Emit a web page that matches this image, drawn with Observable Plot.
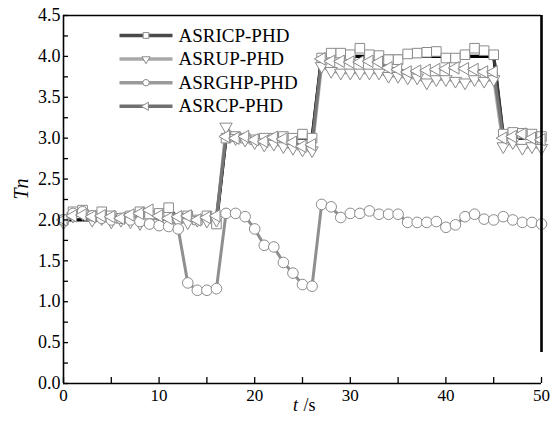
<!DOCTYPE html>
<html><head><meta charset="utf-8">
<script src="https://cdn.jsdelivr.net/npm/d3@7"></script>
<script src="https://cdn.jsdelivr.net/npm/@observablehq/plot@0.6"></script>
<style>
body{margin:0;background:#fff}
svg{display:block}
svg, svg text {font-family: "Liberation Serif", "Times New Roman", serif !important;}
</style>
</head><body><div id="chart"></div>
<script>
const time = [0,1,2,3,4,5,6,7,8,9,10,11,12,13,14,15,16,17,18,19,20,21,22,23,24,25,26,27,28,29,30,31,32,33,34,35,36,37,38,39,40,41,42,43,44,45,46,47,48,49,50];
const trueCount = [2,2,2,2,2,2,2,2,2,2,2,2,2,2,2,2,2, 3,3,3,3,3,3,3,3,3,3, 4,4,4,4,4,4,4,4,4,4,4,4,4,4,4,4,4,4,4, 3,3,3,3,3];
const asricp = [2.0,2.1,2.12,2.05,2.1,2.05,2.02,2.05,2.1,2.05,2.08,2.15,2.02,2.05,2.0,2.05,1.95,
  3.0,3.02,3.0,2.98,3.0,3.0,3.02,3.0,3.05,3.0,
  3.98,4.04,4.04,4.02,4.1,4.02,4.01,3.96,3.96,4.03,4.04,4.05,4.06,3.98,3.98,4.02,4.1,4.07,4.02,
  3.05,3.07,3.06,3.05,3.02];
const asrup = [1.97,2.05,2.08,2.0,2.02,1.98,2.0,1.98,1.96,1.97,1.96,1.95,1.98,1.97,2.0,1.99,2.0,
  3.14,3.0,2.98,2.95,2.92,2.93,2.9,2.88,2.86,2.85,
  3.88,3.82,3.8,3.8,3.8,3.8,3.8,3.76,3.76,3.74,3.74,3.68,3.72,3.72,3.7,3.68,3.72,3.7,3.72,
  2.9,2.95,2.88,2.9,2.88];
const asrghp = [2.0,2.08,2.1,2.05,2.02,2.0,2.02,2.0,1.98,1.95,1.93,1.92,1.89,1.23,1.14,1.14,1.16,
  2.08,2.08,2.04,1.89,1.69,1.67,1.48,1.35,1.21,1.19,
  2.19,2.16,2.03,2.08,2.08,2.11,2.07,2.07,2.07,1.97,1.97,1.97,1.98,1.91,1.94,2.04,2.07,2.01,2.0,2.04,2.0,1.97,1.97,1.95];
const asrcp = [2.0,2.05,2.06,2.04,2.05,2.04,2.02,2.06,2.08,2.12,2.05,2.02,2.04,2.05,2.0,2.03,2.05,
  3.02,3.0,3.02,2.98,2.96,3.01,2.99,2.95,2.9,2.92,
  3.97,3.94,3.94,3.93,3.93,3.94,3.93,3.86,3.84,3.81,3.82,3.83,3.84,3.85,3.86,3.85,3.84,3.81,3.81,
  3.0,3.02,3.05,3.0,2.98];
const seriesNames = ["ASRICP-PHD","ASRUP-PHD","ASRGHP-PHD","ASRCP-PHD"];
const xTicks = [0,10,20,30,40,50];
const xMinor = [0,5,10,15,20,25,30,35,40,45,50];
const yTicks = [0,0.5,1,1.5,2,2.5,3,3.5,4,4.5];
const yMinor = [0,0.25,0.5,0.75,1,1.25,1.5,1.75,2,2.25,2.5,2.75,3,3.25,3.5,3.75,4,4.25,4.5];

const W = 550, H = 426, ML = 63, MR = 9, MT = 15, MB = 43;
const FONT = "Liberation Serif, Times New Roman, serif";
const rows = arr => time.map((t, i) => ({t, v: arr[i]}));
const px2x = px => (px - ML) / (W - ML - MR) * 50;
const px2y = py => (H - MB - py) / (H - MB - MT) * 4.5;

const styles = [
  {data: asricp, line: "#3a3a3a", legendLine: "#4a4a4a", symbol: "square", rotate: 0, r: 5.4},
  {data: asrup, line: "#a8a8a8", legendLine: "#a8a8a8", symbol: "triangle", rotate: 180, r: 4.6},
  {data: asrghp, line: "#8f8f8f", legendLine: "#9a9a9a", symbol: "circle", rotate: 0, r: 5.3},
  {data: asrcp, line: "#757575", legendLine: "#707070", symbol: "triangle", rotate: -90, r: 4.6}
];
const mstroke = "#8a8a8a";

const legendRows = seriesNames.map((name, i) => ({
  name, i,
  x1: px2x(119), x2: px2x(172), xm: px2x(145.5), xt: px2x(178),
  y: px2y(35 + i * 23.6)
}));

const marks = [];
marks.push(Plot.line(rows(trueCount), {x: "t", y: "v", stroke: "#000", strokeWidth: 3.2}));
for (const s of styles) {
  marks.push(Plot.line(rows(s.data), {x: "t", y: "v", stroke: s.line, strokeWidth: 3}));
}
for (const s of styles) {
  marks.push(Plot.dot(rows(s.data), {x: "t", y: "v", symbol: s.symbol, rotate: s.rotate, r: s.r, fill: "white", stroke: mstroke, strokeWidth: 1}));
}
marks.push(
  Plot.ruleX([0], {stroke: "#000", strokeWidth: 1.6}),
  Plot.ruleY([0], {stroke: "#000", strokeWidth: 1.6}),
  Plot.ruleY([4.5], {stroke: "#000", strokeWidth: 1.6}),
  Plot.ruleX([50], {y1: 4.5, y2: px2y(352), stroke: "#000", strokeWidth: 2.6}),
  Plot.axisX(xTicks, {tickSize: 0, tickPadding: 5, fontSize: 17, fontFamily: FONT, label: null}),
  Plot.axisX(xMinor, {tickSize: -6, tickFormat: () => "", label: null, strokeWidth: 1.3}),
  Plot.axisY(yTicks, {tickSize: 0, tickPadding: 3, fontSize: 18, fontFamily: FONT, tickFormat: d3.format(".1f"), label: null}),
  Plot.axisY(yMinor, {tickSize: -5, tickFormat: () => "", label: null, strokeWidth: 1.3}),
  Plot.text(["t"], {frameAnchor: "bottom", dx: -7, dy: 27, fontSize: 18, fontFamily: FONT, fontStyle: "italic"}),
  Plot.text(["/s"], {frameAnchor: "bottom", dx: 7, dy: 27, fontSize: 18, fontFamily: FONT}),
  Plot.text(["Tn"], {frameAnchor: "left", dx: -42, rotate: -90, fontSize: 20, fontFamily: FONT, fontStyle: "italic"})
);
marks.push(
  Plot.link(legendRows, {x1: "x1", x2: "x2", y1: "y", y2: "y", stroke: d => styles[d.i].legendLine, strokeWidth: 3.5}),
  Plot.dot(legendRows, {x: "xm", y: "y", symbol: d => styles[d.i].symbol, rotate: d => styles[d.i].rotate, r: d => styles[d.i].r, fill: "white", stroke: mstroke, strokeWidth: 1}),
  Plot.text(legendRows, {x: "xt", y: "y", text: "name", textAnchor: "start", fontSize: 19, fontFamily: FONT})
);

const chart = Plot.plot({
  width: W, height: H,
  marginLeft: ML, marginRight: MR, marginTop: MT, marginBottom: MB,
  style: {fontFamily: FONT, background: "white", color: "black", overflow: "visible"},
  x: {domain: [0, 50], axis: null},
  y: {domain: [0, 4.5], axis: null},
  symbol: {type: "identity"},
  marks
});
document.getElementById("chart").appendChild(chart);
</script>
</body></html>
